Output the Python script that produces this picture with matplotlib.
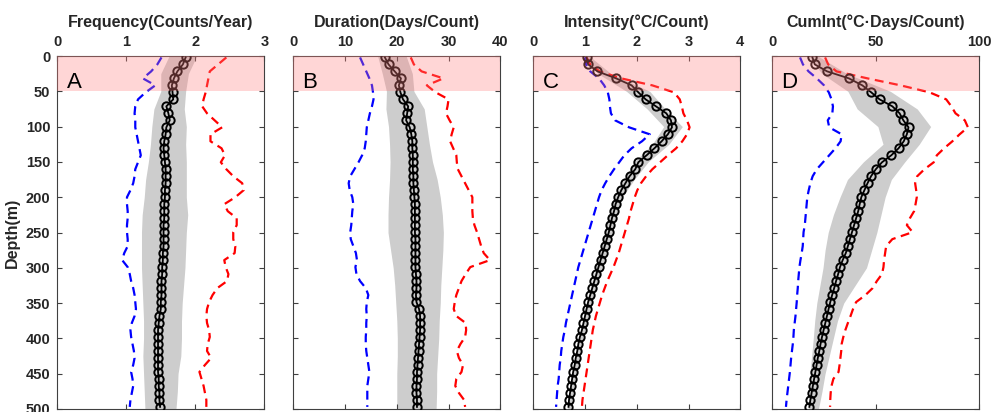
import matplotlib
matplotlib.use('Agg')
import matplotlib.pyplot as plt
import numpy as np

plt.rcParams['font.family'] = ['Liberation Sans', 'DejaVu Sans']

# depth levels of the profiles (m) and of the shaded spread band
depth = np.arange(51) * 9.9 + 2
band_depth = np.arange(0, 501, 25)

# ---- A: frequency (counts/year) ----
freq_mean = [1.86, 1.82, 1.74, 1.69, 1.66, 1.67, 1.68, 1.58, 1.61, 1.63,
             1.58, 1.57, 1.55, 1.54, 1.55, 1.56, 1.57, 1.57, 1.57, 1.56,
             1.56, 1.55, 1.55, 1.55, 1.54, 1.54, 1.54, 1.54, 1.53, 1.53,
             1.52, 1.52, 1.51, 1.51, 1.51, 1.50, 1.50, 1.48, 1.47, 1.46,
             1.46, 1.46, 1.46, 1.46, 1.46, 1.46, 1.47, 1.47, 1.48, 1.48, 1.49]
freq_min = [1.51, 1.45, 1.36, 1.24, 1.42, 1.28, 1.17, 1.13, 1.12, 1.13,
            1.13, 1.15, 1.17, 1.19, 1.21, 1.17, 1.13, 1.12, 1.10, 1.06,
            1.01, 1.01, 1.02, 1.02, 1.01, 1.01, 1.02, 1.02, 0.97, 0.94,
            1.02, 1.05, 1.07, 1.10, 1.12, 1.13, 1.14, 1.12, 1.08, 1.06,
            1.07, 1.09, 1.11, 1.12, 1.10, 1.07, 1.09, 1.10, 1.08, 1.06, 1.05]
freq_max = [2.45, 2.33, 2.21, 2.19, 2.17, 2.15, 2.12, 2.10, 2.17, 2.28,
            2.39, 2.22, 2.22, 2.38, 2.43, 2.37, 2.45, 2.55, 2.68, 2.70,
            2.58, 2.42, 2.47, 2.60, 2.60, 2.55, 2.55, 2.58, 2.57, 2.42,
            2.44, 2.48, 2.46, 2.32, 2.25, 2.20, 2.17, 2.16, 2.17, 2.20,
            2.21, 2.18, 2.17, 2.23, 2.14, 2.06, 2.09, 2.12, 2.14, 2.16, 2.16]
freq_band_lo = [1.62, 1.50, 1.50, 1.40, 1.37, 1.35, 1.32, 1.28, 1.26, 1.23, 1.22,
                1.22, 1.22, 1.23, 1.24, 1.25, 1.25, 1.24, 1.25, 1.26, 1.27]
freq_band_hi = [2.02, 1.90, 1.86, 1.84, 1.87, 1.86, 1.87, 1.87, 1.87, 1.89, 1.87,
                1.86, 1.85, 1.83, 1.81, 1.80, 1.80, 1.79, 1.75, 1.74, 1.72]

# ---- B: duration (days/count) ----
dur_mean = [17.7, 18.4, 19.6, 20.8, 20.4, 20.7, 21.2, 22.2, 22.0, 21.8,
            22.5, 22.8, 23.0, 23.0, 23.1, 23.1, 23.1, 23.2, 23.2, 23.3,
            23.4, 23.5, 23.5, 23.5, 23.5, 23.5, 23.6, 23.6, 23.6, 23.6,
            23.6, 23.7, 23.8, 23.8, 23.7, 23.8, 24.3, 24.5, 24.5, 24.5,
            24.4, 24.3, 24.2, 24.1, 24.0, 23.9, 23.9, 23.8, 23.8, 23.9, 23.9]
dur_min = [12.9, 13.5, 14.1, 14.7, 15.2, 15.4, 15.5, 15.2, 14.8, 14.5,
           14.2, 14.1, 14.0, 13.8, 13.3, 12.6, 11.8, 11.0, 10.7, 10.9,
           11.4, 11.6, 11.4, 11.3, 11.2, 11.0, 11.1, 11.6, 12.1, 12.3,
           12.0, 12.2, 12.9, 14.0, 14.5, 14.2, 14.1, 14.2, 14.1, 14.1,
           14.0, 14.0, 14.1, 14.3, 14.5, 14.7, 14.5, 14.3, 14.3, 14.3, 14.3]
dur_max = [22.7, 23.3, 24.8, 29.0, 25.8, 27.5, 30.0, 29.8, 29.5, 30.2,
           31.0, 30.6, 30.3, 30.9, 31.5, 31.6, 31.8, 32.5, 33.2, 33.9,
           34.6, 34.6, 34.6, 34.7, 35.0, 35.5, 35.9, 36.3, 36.8, 38.0,
           34.2, 33.3, 32.5, 32.0, 31.5, 31.2, 31.0, 31.5, 33.3, 33.4,
           33.2, 32.3, 31.6, 32.0, 32.8, 32.5, 31.5, 31.3, 32.0, 33.0, 33.2]
dur_band_lo = [16.3, 17.2, 18.0, 17.9, 18.4, 18.6, 18.7, 18.6, 18.4, 18.3, 18.3,
               18.8, 19.3, 19.6, 19.8, 20.0, 20.1, 20.1, 20.0, 20.0, 20.0]
dur_band_hi = [21.8, 23.0, 23.3, 25.3, 25.8, 26.3, 26.9, 27.8, 28.4, 28.8, 29.0,
               28.9, 28.7, 28.5, 28.4, 28.2, 28.1, 27.9, 27.7, 27.7, 27.6]

# ---- C: intensity (degC/count) ----
int_mean = [1.03, 1.06, 1.24, 1.60, 1.90, 2.03, 2.17, 2.37, 2.57, 2.66,
            2.68, 2.60, 2.48, 2.34, 2.19, 2.03, 1.97, 1.86, 1.78, 1.70,
            1.64, 1.59, 1.56, 1.52, 1.49, 1.46, 1.42, 1.38, 1.34, 1.30,
            1.26, 1.22, 1.18, 1.14, 1.10, 1.06, 1.03, 1.00, 0.97, 0.94,
            0.90, 0.87, 0.85, 0.82, 0.80, 0.77, 0.75, 0.73, 0.71, 0.69, 0.68]
int_min = [1.00, 1.02, 1.10, 1.27, 1.37, 1.44, 1.47, 1.48, 1.50, 1.58,
           1.85, 2.25, 2.10, 1.90, 1.76, 1.66, 1.56, 1.47, 1.39, 1.32,
           1.27, 1.23, 1.19, 1.15, 1.11, 1.07, 1.03, 0.99, 0.95, 0.91,
           0.87, 0.84, 0.81, 0.78, 0.75, 0.72, 0.69, 0.66, 0.63, 0.61,
           0.58, 0.56, 0.54, 0.53, 0.51, 0.50, 0.49, 0.47, 0.46, 0.45, 0.44]
int_max = [1.03, 1.10, 1.28, 1.70, 2.30, 2.72, 2.83, 2.87, 2.90, 2.97,
           3.02, 2.97, 2.88, 2.76, 2.60, 2.45, 2.30, 2.18, 2.08, 2.01,
           1.96, 1.92, 1.88, 1.85, 1.81, 1.77, 1.73, 1.69, 1.65, 1.60,
           1.55, 1.49, 1.43, 1.38, 1.33, 1.29, 1.25, 1.21, 1.18, 1.15,
           1.13, 1.11, 1.09, 1.07, 1.05, 1.03, 1.01, 0.99, 0.97, 0.95, 0.94]
int_band_lo = [0.98, 1.25, 1.80, 2.20, 2.52, 2.30, 1.95, 1.75, 1.57, 1.46, 1.38,
               1.30, 1.20, 1.11, 1.02, 0.95, 0.88, 0.81, 0.76, 0.71, 0.66]
int_band_hi = [1.08, 1.50, 2.25, 2.55, 2.88, 2.62, 2.22, 1.95, 1.72, 1.60, 1.52,
               1.42, 1.32, 1.22, 1.12, 1.04, 0.96, 0.89, 0.83, 0.77, 0.72]

# ---- D: cumulative intensity (degC days/count) ----
cum_mean = [19.4, 20.5, 26.5, 37.0, 43.5, 47.8, 51.8, 58.0, 61.5, 63.3,
            65.8, 65.0, 63.5, 61.0, 57.5, 53.0, 50.0, 47.7, 46.0, 44.5,
            43.0, 42.2, 41.5, 40.5, 39.5, 38.5, 37.5, 36.5, 35.5, 34.0,
            32.7, 31.8, 30.8, 29.9, 28.9, 28.0, 27.2, 26.4, 25.6, 24.8,
            24.0, 23.3, 22.7, 22.0, 21.4, 20.8, 20.2, 19.6, 19.0, 18.4, 17.9]
cum_min = [13.4, 14.8, 17.5, 21.5, 25.0, 27.3, 28.6, 29.3, 29.0, 26.8,
           27.5, 33.5, 33.0, 30.5, 27.5, 24.5, 21.5, 19.5, 18.4, 17.6,
           16.9, 16.6, 16.3, 16.0, 15.7, 15.1, 14.9, 14.7, 14.2, 13.6,
           13.1, 12.8, 12.5, 12.3, 12.0, 11.8, 11.5, 11.2, 10.8, 10.4,
           10.2, 9.9, 9.5, 9.1, 8.8, 8.5, 8.1, 7.7, 7.3, 6.9, 6.6]
cum_max = [25.5, 27.0, 31.0, 46.0, 62.0, 76.0, 84.0, 86.5, 88.5, 93.0,
           94.5, 90.5, 87.0, 83.0, 79.5, 78.0, 73.5, 70.0, 69.0, 69.5,
           69.8, 69.2, 68.5, 66.5, 65.0, 67.8, 58.0, 55.0, 54.5, 54.0,
           53.7, 53.0, 50.5, 48.5, 45.0, 40.5, 39.0, 37.8, 36.5, 35.3,
           34.3, 33.5, 33.3, 32.9, 32.5, 32.0, 29.5, 28.6, 28.2, 28.0, 27.9]
cum_band_lo = [17.5, 24.0, 36.5, 41.0, 51.0, 53.5, 44.0, 36.3, 32.7, 29.5, 27.0,
               25.5, 24.5, 23.0, 21.5, 20.5, 19.8, 19.0, 18.2, 17.8, 17.4]
cum_band_hi = [22.0, 36.0, 57.0, 70.0, 76.5, 71.0, 64.0, 57.5, 54.5, 52.5, 50.5,
               48.0, 45.5, 40.0, 34.5, 31.5, 29.5, 27.5, 25.5, 24.0, 22.3]

titles = ['Frequency(Counts/Year)', 'Duration(Days/Count)',
          'Intensity(°C/Count)', 'CumInt(°C·Days/Count)']
letters = ['A', 'B', 'C', 'D']
xlims = [(0, 3), (0, 40), (0, 4), (0, 100)]
xticks = [[0, 1, 2, 3], [0, 10, 20, 30, 40], [0, 1, 2, 3, 4], [0, 50, 100]]

means = [freq_mean, dur_mean, int_mean, cum_mean]
mins = [freq_min, dur_min, int_min, cum_min]
maxs = [freq_max, dur_max, int_max, cum_max]
band_los = [freq_band_lo, dur_band_lo, int_band_lo, cum_band_lo]
band_his = [freq_band_hi, dur_band_hi, int_band_hi, cum_band_hi]

fig = plt.figure(figsize=(9.92, 4.12), dpi=100)
lefts = [57.3, 293.3, 533.3, 772.3]
ax_w = 207 / 992
ax_b = 1 - 409 / 412
ax_h = 353 / 412

for i in range(4):
    ax = fig.add_axes([lefts[i] / 992, ax_b, ax_w, ax_h])

    # spread band
    ax.fill_betweenx(band_depth, band_los[i], band_his[i],
                     color='#cdcdcd', lw=0, zorder=1)
    # min / max profiles
    ax.plot(mins[i], depth, color='#0000ff', ls='--', lw=1.6,
            dashes=(4, 2.5), zorder=2)
    ax.plot(maxs[i], depth, color='#ff0000', ls='--', lw=1.6,
            dashes=(4, 2.5), zorder=2)
    # mean profile
    ax.plot(means[i], depth, color='black', lw=1.3, marker='o', ms=6,
            mfc='none', mec='black', mew=1.4, zorder=3)

    # surface layer highlight
    ax.axhspan(0, 50, color=(1, 0.5, 0.5), alpha=0.32, lw=0, zorder=5)
    ax.text(0.045, 0.955, letters[i], transform=ax.transAxes, fontsize=16,
            ha='left', va='top', color='black', zorder=6)

    ax.set_xlim(*xlims[i])
    ax.set_ylim(500, 0)
    ax.set_xticks(xticks[i])
    ax.set_yticks(np.arange(0, 501, 50))
    ax.xaxis.tick_top()
    ax.tick_params(axis='both', direction='in', length=3.5, width=0.8,
                   color='#404040', labelsize=10.5, labelcolor='#262626', pad=5,
                   top=True, bottom=True, left=True, right=True)
    for lab in ax.get_xticklabels() + ax.get_yticklabels():
        lab.set_fontweight('bold')
    for sp in ax.spines.values():
        sp.set_color('#404040')
        sp.set_linewidth(0.8)
    ax.set_title(titles[i], fontsize=11.5, fontweight='bold', color='#262626', pad=6)

    if i == 0:
        ax.set_ylabel('Depth(m)', fontsize=11.5, fontweight='bold', color='#262626', labelpad=4)
    else:
        ax.set_yticklabels([])

fig.savefig('out.png', dpi=100)
